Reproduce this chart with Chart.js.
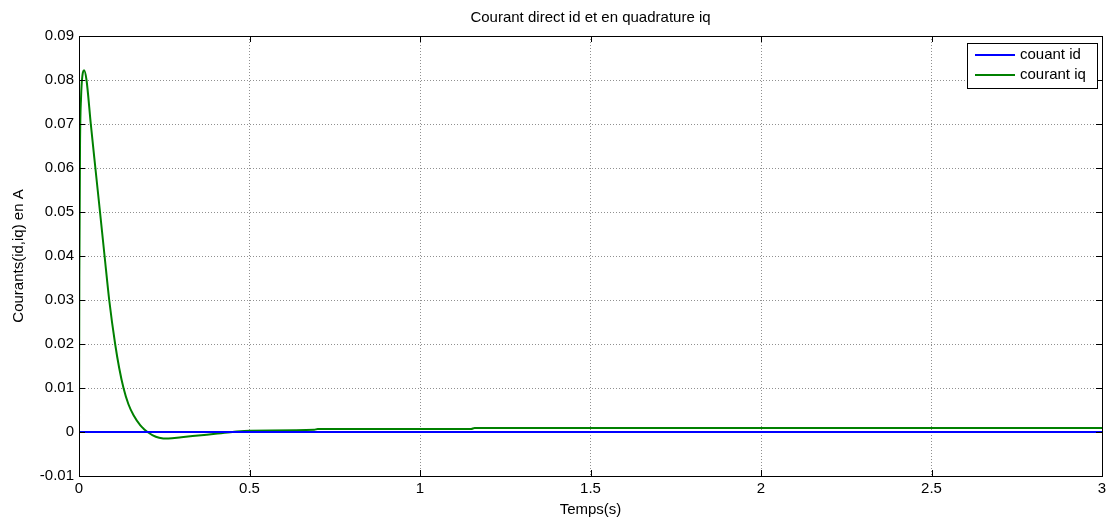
<!DOCTYPE html>
<html>
<head>
<meta charset="utf-8">
<script src="https://cdn.jsdelivr.net/npm/chart.js@4/dist/chart.umd.min.js"></script>
<style>
  html, body { margin: 0; padding: 0; background: #fff; }
  #wrap { width: 1117px; height: 524px; }
</style>
</head>
<body>
<div id="wrap"><canvas id="c" width="1117" height="524"></canvas></div>
<script>
// données
const titleText = 'Courant direct id et en quadrature iq';
const xLabel = 'Temps(s)';
const yLabel = 'Courants(id,iq) en A';
const seriesNames = ['couant id', 'courant iq'];

const idTime = [0, 3];
const idValues = [0, 0];

const iqTime = [0, 0.001, 0.003, 0.006, 0.010, 0.015, 0.022, 0.0346, 0.048, 0.0616, 0.075, 0.0886,
  0.106, 0.118, 0.1305, 0.145, 0.160, 0.180, 0.190, 0.201, 0.215, 0.235, 0.262, 0.300, 0.350, 0.400, 0.450,
  0.500, 0.690, 0.700, 1.150, 1.160, 3.0];
const iqValues = [0, 0.035, 0.065, 0.076, 0.081, 0.0822, 0.080, 0.070, 0.060, 0.050, 0.040, 0.030,
  0.020, 0.0145, 0.010, 0.0063, 0.0038, 0.0015, 0.0007, 0, -0.0007, -0.0013, -0.0015, -0.0012, -0.0008, -0.0004, 0,
  0.0003, 0.0005, 0.0007, 0.0007, 0.0009, 0.0009];

const xMin = 0, xMax = 3, xStep = 0.5;
const yMin = -0.01, yMax = 0.09, yStep = 0.01;

const FONT = 'Liberation Sans, Arial, sans-serif';

const fmt = v => String(parseFloat(v.toFixed(3)));

// cadre, graduations vers l'intérieur, titre et légende façon MATLAB
const matlabLook = {
    id: 'matlabLook',
    afterDraw(chart) {
        const ctx = chart.ctx;
        const a = chart.chartArea;
        const xs = chart.scales.x, ys = chart.scales.y;
        ctx.save();
        ctx.strokeStyle = '#000';
        ctx.lineWidth = 1;
        ctx.beginPath();
        xs.ticks.forEach(t => {
            const px = Math.round(xs.getPixelForValue(t.value)) + 0.5;
            ctx.moveTo(px, a.bottom); ctx.lineTo(px, a.bottom - 6);
            ctx.moveTo(px, a.top); ctx.lineTo(px, a.top + 6);
        });
        ys.ticks.forEach(t => {
            const py = Math.round(ys.getPixelForValue(t.value)) + 0.5;
            ctx.moveTo(a.left, py); ctx.lineTo(a.left + 6, py);
            ctx.moveTo(a.right, py); ctx.lineTo(a.right - 6, py);
        });
        ctx.stroke();
        ctx.strokeRect(Math.round(a.left) + 0.5, Math.round(a.top) + 0.5,
            Math.round(a.right - a.left), Math.round(a.bottom - a.top));

        // titre
        ctx.fillStyle = '#000';
        ctx.font = '15px ' + FONT;
        ctx.textAlign = 'center';
        ctx.textBaseline = 'middle';
        ctx.fillText(titleText, (a.left + a.right) / 2, 18);

        // légende
        const lx = 967, ly = 43, lw = 130, lh = 45;
        ctx.fillStyle = '#fff';
        ctx.fillRect(lx, ly, lw, lh);
        ctx.strokeRect(lx + 0.5, ly + 0.5, lw, lh);
        ctx.textAlign = 'left';
        chart.data.datasets.forEach((ds, i) => {
            const y = ly + 12 + i * 20;
            ctx.strokeStyle = ds.borderColor;
            ctx.lineWidth = 2;
            ctx.beginPath();
            ctx.moveTo(lx + 8, y); ctx.lineTo(lx + 48, y);
            ctx.stroke();
            ctx.fillStyle = '#000';
            ctx.fillText(ds.label, lx + 53, y);
        });
        ctx.restore();
    }
};

new Chart(document.getElementById('c'), {
    type: 'line',
    data: {
        datasets: [
            {
                label: seriesNames[0],
                data: idTime.map((t, i) => ({ x: t, y: idValues[i] })),
                borderColor: '#0000ff',
                borderWidth: 2,
                pointRadius: 0
            },
            {
                label: seriesNames[1],
                data: iqTime.map((t, i) => ({ x: t, y: iqValues[i] })),
                borderColor: '#008000',
                borderWidth: 2,
                pointRadius: 0,
                cubicInterpolationMode: 'monotone'
            }
        ]
    },
    options: {
        responsive: false,
        animation: false,
        events: [],
        layout: { padding: { top: 36, right: 15, left: 0, bottom: 0 } },
        plugins: { legend: { display: false }, title: { display: false }, tooltip: { enabled: false } },
        scales: {
            x: {
                type: 'linear', min: xMin, max: xMax,
                afterFit: s => { s.height = 48; },
                ticks: { stepSize: xStep, color: '#000', font: { family: FONT, size: 15 }, padding: 4, maxRotation: 0, callback: v => fmt(v) },
                grid: { color: '#909090', lineWidth: 1, drawTicks: false },
                border: { display: false, dash: [1, 2] },
                title: { display: true, text: xLabel, color: '#000', font: { family: FONT, size: 15 }, padding: { top: 0, bottom: 5 } }
            },
            y: {
                min: yMin, max: yMax,
                afterFit: s => { s.width = 79; },
                ticks: { stepSize: yStep, color: '#000', font: { family: FONT, size: 15 }, padding: 5, callback: v => fmt(v) },
                grid: { color: '#909090', lineWidth: 1, drawTicks: false },
                border: { display: false, dash: [1, 2] },
                title: { display: true, text: yLabel, color: '#000', font: { family: FONT, size: 15 }, padding: { top: 10, bottom: 0 } }
            }
        }
    },
    plugins: [matlabLook]
});
</script>
</body>
</html>
